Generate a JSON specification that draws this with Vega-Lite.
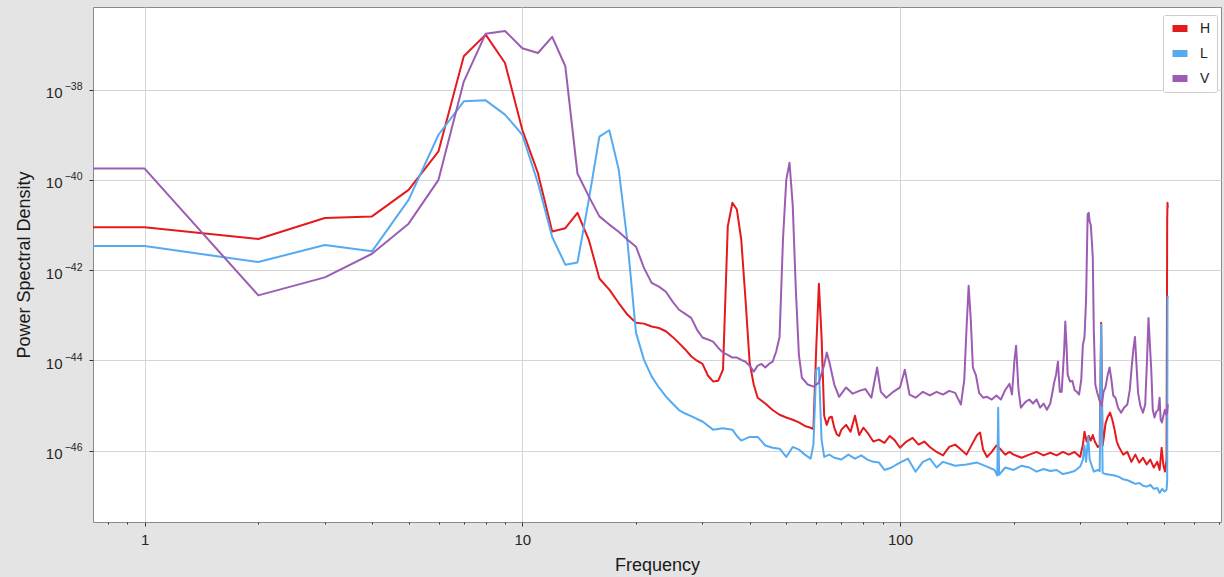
{
  "$schema": "https://vega.github.io/schema/vega-lite/v6.json",
  "autosize": {"type": "none"},
  "width": 1128,
  "height": 515,
  "padding": {"left": 93, "top": 7, "right": 3, "bottom": 55},
  "background": "#e4e4e4",
  "view": {"fill": "white", "stroke": "#8a8a8a", "strokeWidth": 1},
  "config": {
    "font": "Liberation Sans",
    "axis": {"labelFont": "Liberation Sans", "titleFont": "Liberation Sans", "labelColor": "#262626", "titleColor": "#1a1a1a", "tickColor": "#333333", "domain": false, "gridColor": "#d4d4d4", "gridWidth": 1}
  },
  "data": {"values": [
    {"f":0.5,"s":"H","p":8.9e-42},{"f":1,"s":"H","p":8.9e-42},{"f":2,"s":"H","p":4.9e-42},{"f":3,"s":"H","p":1.43e-41},{"f":4,"s":"H","p":1.55e-41},{"f":5,"s":"H","p":6.0e-41},{"f":6,"s":"H","p":4.3e-40},{"f":7,"s":"H","p":5.5e-38},{"f":8,"s":"H","p":1.66e-37},{"f":9,"s":"H","p":3.9e-38},{"f":10,"s":"H","p":1.29e-39},{"f":11,"s":"H","p":1.41e-40},{"f":12,"s":"H","p":7.2e-42},{"f":13,"s":"H","p":8.5e-42},{"f":14,"s":"H","p":1.86e-41},{"f":15,"s":"H","p":4.7e-42},{"f":16,"s":"H","p":6.5e-43},{"f":17,"s":"H","p":3.7e-43},{"f":18,"s":"H","p":1.86e-43},{"f":19,"s":"H","p":1.02e-43},{"f":20,"s":"H","p":6.8e-44},{"f":21,"s":"H","p":6.5e-44},{"f":22,"s":"H","p":5.6e-44},{"f":23,"s":"H","p":5.2e-44},{"f":24,"s":"H","p":4.4e-44},{"f":25,"s":"H","p":3.3e-44},{"f":26,"s":"H","p":2.4e-44},{"f":27,"s":"H","p":1.74e-44},{"f":28,"s":"H","p":1.23e-44},{"f":29,"s":"H","p":9.8e-45},{"f":30,"s":"H","p":8.3e-45},{"f":31,"s":"H","p":4.6e-45},{"f":32,"s":"H","p":3.4e-45},{"f":33,"s":"H","p":3.5e-45},{"f":34,"s":"H","p":6.2e-45},{"f":35,"s":"H","p":9.3e-42},{"f":36,"s":"H","p":3.1e-41},{"f":37,"s":"H","p":2.2e-41},{"f":38,"s":"H","p":4.7e-42},{"f":39,"s":"H","p":2.2e-43},{"f":40,"s":"H","p":8.7e-45},{"f":41,"s":"H","p":2.9e-45},{"f":42,"s":"H","p":1.48e-45},{"f":44,"s":"H","p":1.1e-45},{"f":46,"s":"H","p":7.9e-46},{"f":48,"s":"H","p":6.2e-46},{"f":50,"s":"H","p":5.4e-46},{"f":52,"s":"H","p":4.8e-46},{"f":54,"s":"H","p":4.2e-46},{"f":56,"s":"H","p":3.5e-46},{"f":58,"s":"H","p":3.2e-46},{"f":59,"s":"H","p":3.0e-46},{"f":60,"s":"H","p":1.74e-44},{"f":61,"s":"H","p":5.0e-43},{"f":62,"s":"H","p":3.3e-44},{"f":63,"s":"H","p":5.9e-46},{"f":64,"s":"H","p":3.7e-46},{"f":65,"s":"H","p":5.4e-46},{"f":66,"s":"H","p":5.6e-46},{"f":67,"s":"H","p":3.2e-46},{"f":68,"s":"H","p":2.3e-46},{"f":69,"s":"H","p":2.1e-46},{"f":70,"s":"H","p":2.9e-46},{"f":72,"s":"H","p":3.7e-46},{"f":74,"s":"H","p":2.6e-46},{"f":76,"s":"H","p":5.9e-46},{"f":78,"s":"H","p":2.2e-46},{"f":80,"s":"H","p":3.2e-46},{"f":82,"s":"H","p":2.5e-46},{"f":85,"s":"H","p":1.58e-46},{"f":88,"s":"H","p":1.74e-46},{"f":91,"s":"H","p":1.48e-46},{"f":94,"s":"H","p":2.1e-46},{"f":97,"s":"H","p":1.66e-46},{"f":100,"s":"H","p":1.15e-46},{"f":104,"s":"H","p":1.58e-46},{"f":108,"s":"H","p":1.9e-46},{"f":112,"s":"H","p":1.35e-46},{"f":116,"s":"H","p":1.58e-46},{"f":120,"s":"H","p":1.2e-46},{"f":125,"s":"H","p":9.3e-47},{"f":130,"s":"H","p":7.8e-47},{"f":135,"s":"H","p":1.2e-46},{"f":140,"s":"H","p":1.35e-46},{"f":145,"s":"H","p":1.05e-46},{"f":150,"s":"H","p":8.1e-47},{"f":155,"s":"H","p":1.35e-46},{"f":160,"s":"H","p":2.2e-46},{"f":163,"s":"H","p":2.5e-46},{"f":166,"s":"H","p":1.05e-46},{"f":170,"s":"H","p":7.2e-47},{"f":175,"s":"H","p":9.3e-47},{"f":180,"s":"H","p":1.29e-46},{"f":185,"s":"H","p":1.05e-46},{"f":190,"s":"H","p":8.1e-47},{"f":195,"s":"H","p":9.3e-47},{"f":200,"s":"H","p":8.1e-47},{"f":210,"s":"H","p":6.9e-47},{"f":220,"s":"H","p":8.1e-47},{"f":230,"s":"H","p":9.3e-47},{"f":240,"s":"H","p":7.8e-47},{"f":250,"s":"H","p":8.9e-47},{"f":260,"s":"H","p":7.8e-47},{"f":270,"s":"H","p":9.3e-47},{"f":280,"s":"H","p":8.1e-47},{"f":290,"s":"H","p":9.3e-47},{"f":300,"s":"H","p":7.2e-47},{"f":305,"s":"H","p":1.35e-46},{"f":308,"s":"H","p":2.6e-46},{"f":312,"s":"H","p":1.58e-46},{"f":316,"s":"H","p":2.1e-46},{"f":320,"s":"H","p":1.66e-46},{"f":324,"s":"H","p":2.2e-46},{"f":328,"s":"H","p":1.58e-46},{"f":334,"s":"H","p":1.2e-46},{"f":338,"s":"H","p":1.29e-46},{"f":341,"s":"H","p":6.8e-44},{"f":344,"s":"H","p":1.29e-46},{"f":347,"s":"H","p":2.1e-46},{"f":350,"s":"H","p":3.9e-46},{"f":355,"s":"H","p":5.6e-46},{"f":360,"s":"H","p":6.9e-46},{"f":365,"s":"H","p":4.8e-46},{"f":370,"s":"H","p":2.9e-46},{"f":375,"s":"H","p":1.58e-46},{"f":380,"s":"H","p":1.2e-46},{"f":390,"s":"H","p":8.1e-47},{"f":400,"s":"H","p":9.3e-47},{"f":410,"s":"H","p":5.6e-47},{"f":420,"s":"H","p":8.1e-47},{"f":430,"s":"H","p":5.4e-47},{"f":440,"s":"H","p":6.9e-47},{"f":450,"s":"H","p":4.9e-47},{"f":460,"s":"H","p":6.3e-47},{"f":470,"s":"H","p":4.2e-47},{"f":480,"s":"H","p":5.6e-47},{"f":487,"s":"H","p":3.7e-47},{"f":493,"s":"H","p":1.15e-46},{"f":498,"s":"H","p":4.9e-47},{"f":503,"s":"H","p":3.4e-47},{"f":508,"s":"H","p":6.3e-47},{"f":510,"s":"H","p":1.3e-41},{"f":511,"s":"H","p":3.1e-41},{"f":512,"s":"H","p":2.4e-41},
    {"f":0.5,"s":"L","p":3.4e-42},{"f":1,"s":"L","p":3.4e-42},{"f":2,"s":"L","p":1.51e-42},{"f":3,"s":"L","p":3.6e-42},{"f":4,"s":"L","p":2.6e-42},{"f":5,"s":"L","p":3.6e-41},{"f":6,"s":"L","p":1.0e-39},{"f":7,"s":"L","p":5.5e-39},{"f":8,"s":"L","p":5.8e-39},{"f":9,"s":"L","p":2.8e-39},{"f":10,"s":"L","p":1.0e-39},{"f":11,"s":"L","p":8.5e-41},{"f":12,"s":"L","p":5.4e-42},{"f":13,"s":"L","p":1.32e-42},{"f":14,"s":"L","p":1.48e-42},{"f":15,"s":"L","p":3.6e-41},{"f":16,"s":"L","p":9.1e-40},{"f":17,"s":"L","p":1.26e-39},{"f":18,"s":"L","p":1.7e-40},{"f":19,"s":"L","p":4.0e-42},{"f":20,"s":"L","p":4.1e-44},{"f":21,"s":"L","p":1.02e-44},{"f":22,"s":"L","p":4.4e-45},{"f":23,"s":"L","p":2.5e-45},{"f":24,"s":"L","p":1.58e-45},{"f":25,"s":"L","p":1.1e-45},{"f":26,"s":"L","p":7.9e-46},{"f":27,"s":"L","p":6.6e-46},{"f":28,"s":"L","p":5.8e-46},{"f":29,"s":"L","p":5.0e-46},{"f":30,"s":"L","p":4.4e-46},{"f":32,"s":"L","p":2.9e-46},{"f":34,"s":"L","p":3.1e-46},{"f":36,"s":"L","p":2.9e-46},{"f":37,"s":"L","p":2.1e-46},{"f":38,"s":"L","p":1.66e-46},{"f":40,"s":"L","p":2.0e-46},{"f":42,"s":"L","p":2.0e-46},{"f":44,"s":"L","p":1.29e-46},{"f":46,"s":"L","p":1.15e-46},{"f":48,"s":"L","p":1.1e-46},{"f":50,"s":"L","p":7.2e-47},{"f":52,"s":"L","p":1.2e-46},{"f":54,"s":"L","p":1.05e-46},{"f":56,"s":"L","p":8.1e-47},{"f":58,"s":"L","p":6.6e-47},{"f":59,"s":"L","p":1.35e-46},{"f":60,"s":"L","p":6.2e-45},{"f":61,"s":"L","p":6.9e-45},{"f":62,"s":"L","p":1.74e-46},{"f":63,"s":"L","p":7.2e-47},{"f":65,"s":"L","p":8.1e-47},{"f":67,"s":"L","p":6.9e-47},{"f":70,"s":"L","p":6.3e-47},{"f":73,"s":"L","p":8.1e-47},{"f":76,"s":"L","p":6.6e-47},{"f":79,"s":"L","p":7.8e-47},{"f":82,"s":"L","p":6.3e-47},{"f":85,"s":"L","p":5.6e-47},{"f":88,"s":"L","p":5.4e-47},{"f":91,"s":"L","p":3.7e-47},{"f":95,"s":"L","p":4.2e-47},{"f":100,"s":"L","p":5.4e-47},{"f":105,"s":"L","p":6.6e-47},{"f":110,"s":"L","p":3.4e-47},{"f":115,"s":"L","p":5.6e-47},{"f":120,"s":"L","p":6.6e-47},{"f":125,"s":"L","p":4.2e-47},{"f":130,"s":"L","p":5.6e-47},{"f":140,"s":"L","p":4.6e-47},{"f":150,"s":"L","p":4.9e-47},{"f":160,"s":"L","p":5.4e-47},{"f":170,"s":"L","p":4.4e-47},{"f":178,"s":"L","p":3.7e-47},{"f":181,"s":"L","p":2.8e-47},{"f":182,"s":"L","p":8.9e-46},{"f":183,"s":"L","p":2.9e-47},{"f":190,"s":"L","p":4.2e-47},{"f":200,"s":"L","p":3.7e-47},{"f":210,"s":"L","p":4.6e-47},{"f":220,"s":"L","p":4.2e-47},{"f":230,"s":"L","p":3.4e-47},{"f":240,"s":"L","p":3.9e-47},{"f":250,"s":"L","p":3.5e-47},{"f":260,"s":"L","p":3.7e-47},{"f":270,"s":"L","p":3.0e-47},{"f":280,"s":"L","p":3.2e-47},{"f":290,"s":"L","p":3.5e-47},{"f":300,"s":"L","p":4.4e-47},{"f":305,"s":"L","p":6.3e-47},{"f":308,"s":"L","p":1.29e-46},{"f":311,"s":"L","p":5.6e-47},{"f":315,"s":"L","p":2.0e-46},{"f":318,"s":"L","p":6.3e-47},{"f":322,"s":"L","p":4.6e-47},{"f":326,"s":"L","p":3.4e-47},{"f":334,"s":"L","p":3.7e-47},{"f":338,"s":"L","p":3.5e-47},{"f":341,"s":"L","p":6.2e-44},{"f":344,"s":"L","p":3.2e-47},{"f":350,"s":"L","p":3.0e-47},{"f":360,"s":"L","p":2.9e-47},{"f":370,"s":"L","p":2.8e-47},{"f":380,"s":"L","p":2.6e-47},{"f":390,"s":"L","p":2.3e-47},{"f":400,"s":"L","p":2.2e-47},{"f":410,"s":"L","p":2.0e-47},{"f":420,"s":"L","p":1.82e-47},{"f":430,"s":"L","p":1.9e-47},{"f":440,"s":"L","p":1.66e-47},{"f":450,"s":"L","p":1.58e-47},{"f":460,"s":"L","p":1.74e-47},{"f":470,"s":"L","p":1.41e-47},{"f":480,"s":"L","p":1.48e-47},{"f":487,"s":"L","p":1.15e-47},{"f":495,"s":"L","p":1.41e-47},{"f":502,"s":"L","p":1.23e-47},{"f":508,"s":"L","p":1.35e-47},{"f":510,"s":"L","p":2.2e-47},{"f":511,"s":"L","p":2.2e-43},{"f":512,"s":"L","p":2.7e-43},
    {"f":0.5,"s":"V","p":1.78e-40},{"f":1,"s":"V","p":1.78e-40},{"f":2,"s":"V","p":2.75e-43},{"f":3,"s":"V","p":6.9e-43},{"f":4,"s":"V","p":2.3e-42},{"f":5,"s":"V","p":1.07e-41},{"f":6,"s":"V","p":1.0e-40},{"f":7,"s":"V","p":1.51e-38},{"f":8,"s":"V","p":1.74e-37},{"f":9,"s":"V","p":2.0e-37},{"f":10,"s":"V","p":8.3e-38},{"f":11,"s":"V","p":6.5e-38},{"f":12,"s":"V","p":1.48e-37},{"f":13,"s":"V","p":3.3e-38},{"f":14,"s":"V","p":1.38e-40},{"f":15,"s":"V","p":4.3e-41},{"f":16,"s":"V","p":1.55e-41},{"f":17,"s":"V","p":1.02e-41},{"f":18,"s":"V","p":7.1e-42},{"f":19,"s":"V","p":4.7e-42},{"f":20,"s":"V","p":3.3e-42},{"f":21,"s":"V","p":1.12e-42},{"f":22,"s":"V","p":5.2e-43},{"f":23,"s":"V","p":4.3e-43},{"f":24,"s":"V","p":3.3e-43},{"f":25,"s":"V","p":2.0e-43},{"f":26,"s":"V","p":1.32e-43},{"f":27,"s":"V","p":1.07e-43},{"f":28,"s":"V","p":8.7e-44},{"f":29,"s":"V","p":4.8e-44},{"f":30,"s":"V","p":3.2e-44},{"f":31,"s":"V","p":2.9e-44},{"f":32,"s":"V","p":2.6e-44},{"f":33,"s":"V","p":1.9e-44},{"f":34,"s":"V","p":1.48e-44},{"f":35,"s":"V","p":1.32e-44},{"f":36,"s":"V","p":1.15e-44},{"f":37,"s":"V","p":1.15e-44},{"f":38,"s":"V","p":1.02e-44},{"f":39,"s":"V","p":9.3e-45},{"f":40,"s":"V","p":7.6e-45},{"f":41,"s":"V","p":5.6e-45},{"f":42,"s":"V","p":7.6e-45},{"f":43,"s":"V","p":8.3e-45},{"f":44,"s":"V","p":6.9e-45},{"f":45,"s":"V","p":8.3e-45},{"f":46,"s":"V","p":9.3e-45},{"f":47,"s":"V","p":1.55e-44},{"f":48,"s":"V","p":3.3e-44},{"f":49,"s":"V","p":4.7e-42},{"f":50,"s":"V","p":1.0e-40},{"f":51,"s":"V","p":2.4e-40},{"f":52,"s":"V","p":2.8e-41},{"f":53,"s":"V","p":3.7e-43},{"f":54,"s":"V","p":1.32e-44},{"f":55,"s":"V","p":4.1e-45},{"f":57,"s":"V","p":2.9e-45},{"f":59,"s":"V","p":2.6e-45},{"f":61,"s":"V","p":3.2e-45},{"f":63,"s":"V","p":7.9e-45},{"f":64,"s":"V","p":1.48e-44},{"f":65,"s":"V","p":9.3e-45},{"f":67,"s":"V","p":2.9e-45},{"f":69,"s":"V","p":1.55e-45},{"f":72,"s":"V","p":2.5e-45},{"f":75,"s":"V","p":1.82e-45},{"f":78,"s":"V","p":2.1e-45},{"f":81,"s":"V","p":2.3e-45},{"f":84,"s":"V","p":1.48e-45},{"f":87,"s":"V","p":6.9e-45},{"f":89,"s":"V","p":2.0e-45},{"f":92,"s":"V","p":1.48e-45},{"f":96,"s":"V","p":2.0e-45},{"f":100,"s":"V","p":2.5e-45},{"f":103,"s":"V","p":6.2e-45},{"f":106,"s":"V","p":1.74e-45},{"f":110,"s":"V","p":1.48e-45},{"f":115,"s":"V","p":2.0e-45},{"f":120,"s":"V","p":1.66e-45},{"f":125,"s":"V","p":2.0e-45},{"f":130,"s":"V","p":1.74e-45},{"f":135,"s":"V","p":2.1e-45},{"f":140,"s":"V","p":1.9e-45},{"f":145,"s":"V","p":1.05e-45},{"f":148,"s":"V","p":3.7e-45},{"f":150,"s":"V","p":4.8e-44},{"f":152,"s":"V","p":4.5e-43},{"f":154,"s":"V","p":7.9e-44},{"f":156,"s":"V","p":6.9e-45},{"f":159,"s":"V","p":4.6e-45},{"f":162,"s":"V","p":1.9e-45},{"f":166,"s":"V","p":1.48e-45},{"f":170,"s":"V","p":1.55e-45},{"f":175,"s":"V","p":1.35e-45},{"f":180,"s":"V","p":1.66e-45},{"f":185,"s":"V","p":1.35e-45},{"f":190,"s":"V","p":2.2e-45},{"f":195,"s":"V","p":3.0e-45},{"f":198,"s":"V","p":1.74e-45},{"f":201,"s":"V","p":1.02e-44},{"f":203,"s":"V","p":2.1e-44},{"f":206,"s":"V","p":2.2e-45},{"f":209,"s":"V","p":8.9e-46},{"f":215,"s":"V","p":1.2e-45},{"f":220,"s":"V","p":1.35e-45},{"f":225,"s":"V","p":1.1e-45},{"f":230,"s":"V","p":1.35e-45},{"f":235,"s":"V","p":8.9e-46},{"f":240,"s":"V","p":1.1e-45},{"f":245,"s":"V","p":8.0e-46},{"f":250,"s":"V","p":1.1e-45},{"f":254,"s":"V","p":2.2e-45},{"f":256,"s":"V","p":3.2e-45},{"f":259,"s":"V","p":4.8e-45},{"f":262,"s":"V","p":9.3e-45},{"f":265,"s":"V","p":2.0e-45},{"f":268,"s":"V","p":2.0e-45},{"f":270,"s":"V","p":5.6e-45},{"f":272,"s":"V","p":1.55e-44},{"f":274,"s":"V","p":7.2e-44},{"f":276,"s":"V","p":2.2e-44},{"f":278,"s":"V","p":4.8e-45},{"f":282,"s":"V","p":3.4e-45},{"f":286,"s":"V","p":3.5e-45},{"f":290,"s":"V","p":2.2e-45},{"f":294,"s":"V","p":2.0e-45},{"f":298,"s":"V","p":1.74e-45},{"f":302,"s":"V","p":3.7e-45},{"f":305,"s":"V","p":2.2e-44},{"f":308,"s":"V","p":3.2e-44},{"f":311,"s":"V","p":2.2e-43},{"f":314,"s":"V","p":1.7e-41},{"f":316,"s":"V","p":1.86e-41},{"f":318,"s":"V","p":1.17e-41},{"f":320,"s":"V","p":1.02e-41},{"f":322,"s":"V","p":4.7e-42},{"f":324,"s":"V","p":1.9e-42},{"f":326,"s":"V","p":4.8e-44},{"f":329,"s":"V","p":2.9e-45},{"f":333,"s":"V","p":1.9e-45},{"f":337,"s":"V","p":1.35e-45},{"f":342,"s":"V","p":9.8e-46},{"f":346,"s":"V","p":2.0e-45},{"f":350,"s":"V","p":2.5e-45},{"f":355,"s":"V","p":4.8e-45},{"f":359,"s":"V","p":6.9e-45},{"f":363,"s":"V","p":3.7e-45},{"f":367,"s":"V","p":1.66e-45},{"f":372,"s":"V","p":1.48e-45},{"f":378,"s":"V","p":8.9e-46},{"f":385,"s":"V","p":6.9e-46},{"f":392,"s":"V","p":8.9e-46},{"f":400,"s":"V","p":1.05e-45},{"f":406,"s":"V","p":2.2e-45},{"f":411,"s":"V","p":7.6e-45},{"f":415,"s":"V","p":1.74e-44},{"f":419,"s":"V","p":3.3e-44},{"f":423,"s":"V","p":7.9e-45},{"f":427,"s":"V","p":1.9e-45},{"f":433,"s":"V","p":9.8e-46},{"f":440,"s":"V","p":6.9e-46},{"f":446,"s":"V","p":1.05e-45},{"f":451,"s":"V","p":1.02e-44},{"f":455,"s":"V","p":8.7e-44},{"f":459,"s":"V","p":2.2e-44},{"f":463,"s":"V","p":5.6e-45},{"f":467,"s":"V","p":8.0e-46},{"f":472,"s":"V","p":5.4e-46},{"f":477,"s":"V","p":7.2e-46},{"f":483,"s":"V","p":8.0e-46},{"f":487,"s":"V","p":1.48e-45},{"f":490,"s":"V","p":4.8e-46},{"f":494,"s":"V","p":4.2e-46},{"f":499,"s":"V","p":6.2e-46},{"f":503,"s":"V","p":8.0e-46},{"f":507,"s":"V","p":6.2e-46},{"f":510,"s":"V","p":7.2e-46},{"f":512,"s":"V","p":1.05e-45}
  ]},
  "encoding": {
    "x": {
      "field": "f", "type": "quantitative",
      "scale": {"type": "log", "domain": [0.73, 708], "nice": false},
      "axis": {
        "title": "Frequency", "titleFontSize": 18, "titleFontWeight": "normal", "titlePadding": 9,
        "values": [0.8,0.9,1,2,3,4,5,6,7,8,9,10,20,30,40,50,60,70,80,90,100,200,300,400,500,600,700],
        "labelExpr": "indexof([1,10,100], datum.value) >= 0 ? datum.label : ''",
        "labelFontSize": 15, "labelPadding": 6, "labelFlush": false,
        "tickSize": {"condition": {"test": "indexof([1,10,100], datum.value) >= 0", "value": 4}, "value": 2},
        "gridOpacity": {"condition": {"test": "indexof([1,10,100], datum.value) >= 0", "value": 1}, "value": 0}
      }
    }
  },
  "layer": [
    {
      "mark": {"type": "line", "strokeWidth": 2, "clip": true, "strokeJoin": "round"},
      "encoding": {
        "y": {
          "field": "p", "type": "quantitative",
          "scale": {"type": "log", "domain": [2.6e-48, 6.8e-37], "nice": false},
          "axis": {
            "orient": "left",
            "title": "Power Spectral Density", "titleFontSize": 18, "titleFontWeight": "normal", "titlePadding": 12,
            "values": [1e-46, 1e-44, 1e-42, 1e-40, 1e-38],
            "labelExpr": "'10'",
            "labelFontSize": 15, "labelPadding": 27, "labelOffset": 3, "tickSize": 4
          }
        },
        "color": {
          "field": "s", "type": "nominal",
          "scale": {"domain": ["H", "L", "V"], "range": ["#e41a1c", "#55aaf0", "#9c5cb4"]},
          "legend": {
            "title": null, "orient": "none", "legendX": 1070, "legendY": 8,
            "fillColor": "white", "strokeColor": "#cccccc", "cornerRadius": 2, "padding": 6,
            "symbolType": "stroke", "symbolSize": 225, "symbolStrokeWidth": 7, "clipHeight": 15,
            "labelFontSize": 14, "labelFont": "Liberation Sans", "labelColor": "#222222", "labelOffset": 9,
            "rowPadding": 10
          }
        }
      }
    },
    {
      "mark": {"type": "line", "strokeWidth": 2, "strokeOpacity": 0, "clip": true},
      "encoding": {
        "y": {
          "field": "p", "type": "quantitative",
          "axis": {
            "orient": "left", "title": null, "grid": false, "ticks": false,
            "values": [1e-46, 1e-44, 1e-42, 1e-40, 1e-38],
            "labelExpr": "'−' + (-round(log(datum.value)/LN10))",
            "labelFontSize": 10.5, "labelPadding": 11, "labelOffset": -3
          }
        },
        "detail": {"field": "s", "type": "nominal"}
      }
    }
  ],
  "resolve": {"axis": {"y": "independent"}}
}
